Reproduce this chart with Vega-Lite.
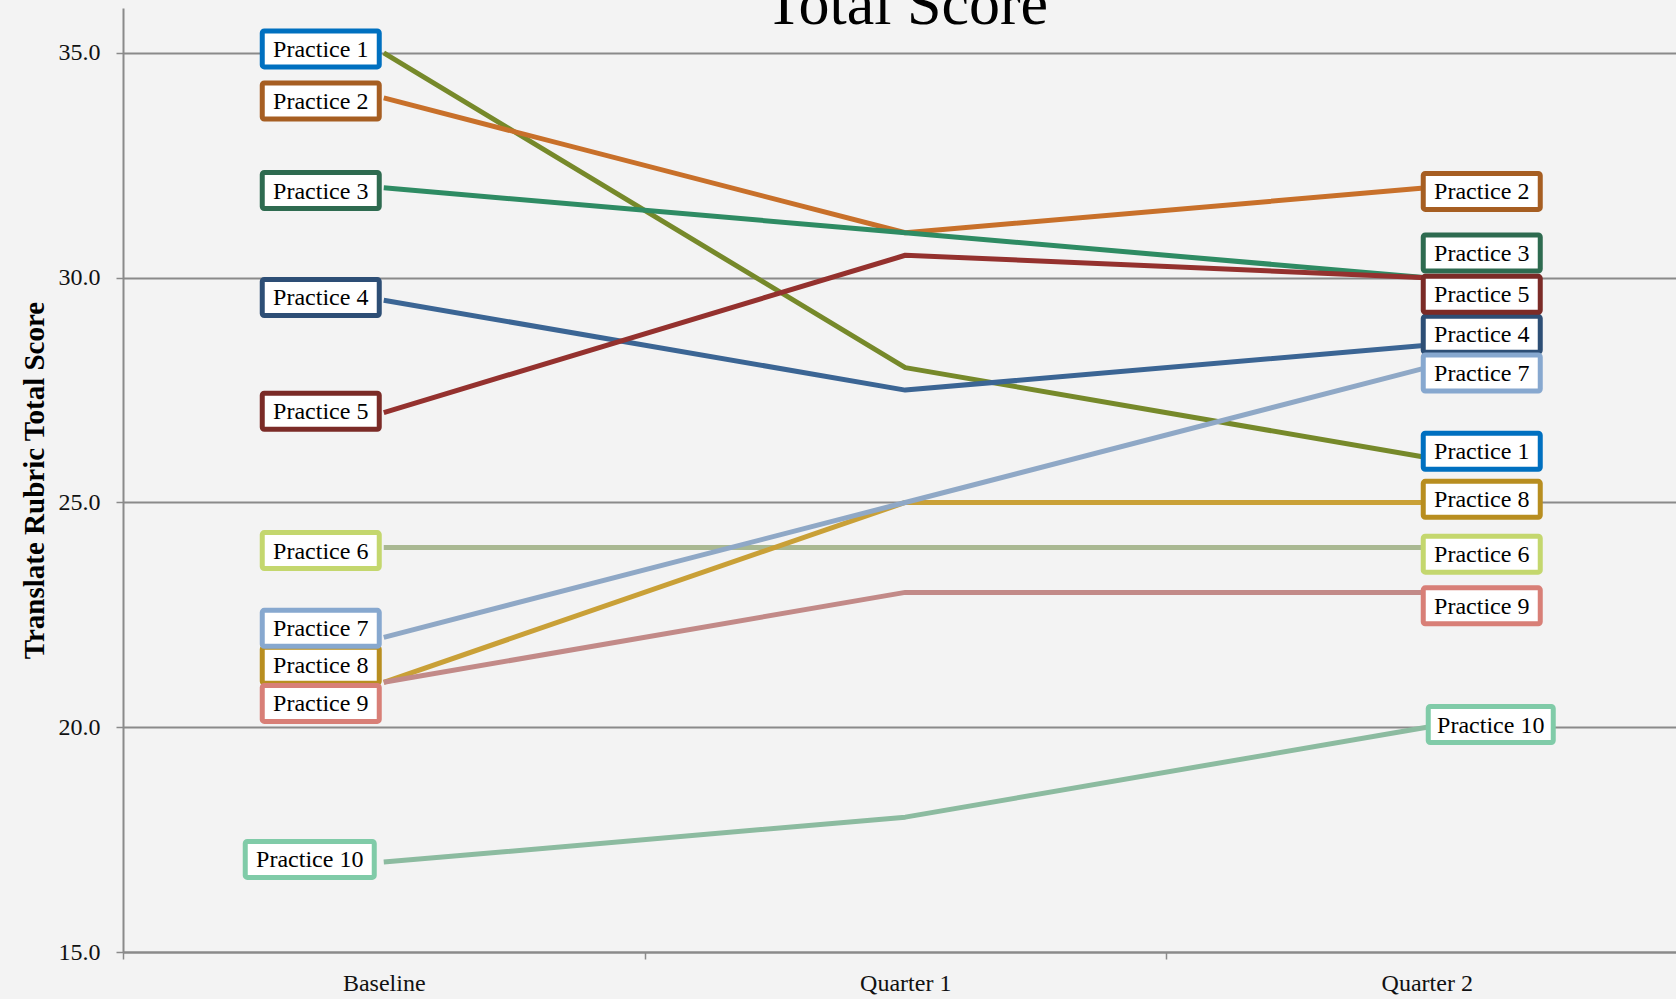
{
  "$schema": "https://vega.github.io/schema/vega-lite/v6.json",
  "autosize": {"type": "none"},
  "width": 1553,
  "height": 944,
  "padding": {"left": 123, "top": 8, "right": 0, "bottom": 47},
  "background": "#f3f3f3",
  "title": {
    "text": "Total Score",
    "font": "Liberation Serif",
    "fontSize": 62,
    "fontWeight": "normal",
    "color": "#000000",
    "anchor": "middle",
    "frame": "group",
    "offset": -78,
    "baseline": "alphabetic",
    "dx": 7
  },
  "config": {
    "font": "Liberation Serif",
    "view": {"stroke": null}
  },
  "data": {
    "values": [
      {"practice": "Practice 1", "period": "Baseline", "score": 35, "labelAt": 35.09},
      {"practice": "Practice 1", "period": "Quarter 1", "score": 28},
      {"practice": "Practice 1", "period": "Quarter 2", "score": 26, "labelAt": 26.14},
      {"practice": "Practice 2", "period": "Baseline", "score": 34, "labelAt": 33.93},
      {"practice": "Practice 2", "period": "Quarter 1", "score": 31},
      {"practice": "Practice 2", "period": "Quarter 2", "score": 32, "labelAt": 31.92},
      {"practice": "Practice 3", "period": "Baseline", "score": 32, "labelAt": 31.94},
      {"practice": "Practice 3", "period": "Quarter 1", "score": 31},
      {"practice": "Practice 3", "period": "Quarter 2", "score": 30, "labelAt": 30.55},
      {"practice": "Practice 4", "period": "Baseline", "score": 29.5, "labelAt": 29.56},
      {"practice": "Practice 4", "period": "Quarter 1", "score": 27.5},
      {"practice": "Practice 4", "period": "Quarter 2", "score": 28.5, "labelAt": 28.74},
      {"practice": "Practice 5", "period": "Baseline", "score": 27, "labelAt": 27.03},
      {"practice": "Practice 5", "period": "Quarter 1", "score": 30.5},
      {"practice": "Practice 5", "period": "Quarter 2", "score": 30, "labelAt": 29.63},
      {"practice": "Practice 6", "period": "Baseline", "score": 24, "labelAt": 23.93},
      {"practice": "Practice 6", "period": "Quarter 1", "score": 24},
      {"practice": "Practice 6", "period": "Quarter 2", "score": 24, "labelAt": 23.85},
      {"practice": "Practice 8", "period": "Baseline", "score": 21, "labelAt": 21.38},
      {"practice": "Practice 8", "period": "Quarter 1", "score": 25},
      {"practice": "Practice 8", "period": "Quarter 2", "score": 25, "labelAt": 25.07},
      {"practice": "Practice 7", "period": "Baseline", "score": 22, "labelAt": 22.2},
      {"practice": "Practice 7", "period": "Quarter 1", "score": 25},
      {"practice": "Practice 7", "period": "Quarter 2", "score": 28, "labelAt": 27.88},
      {"practice": "Practice 9", "period": "Baseline", "score": 21, "labelAt": 20.53},
      {"practice": "Practice 9", "period": "Quarter 1", "score": 23},
      {"practice": "Practice 9", "period": "Quarter 2", "score": 23, "labelAt": 22.7},
      {"practice": "Practice 10", "period": "Baseline", "score": 17, "labelAt": 17.06},
      {"practice": "Practice 10", "period": "Quarter 1", "score": 18},
      {"practice": "Practice 10", "period": "Quarter 2", "score": 20, "labelAt": 20.06}
    ]
  },
  "encoding": {
    "x": {
      "field": "period",
      "type": "nominal",
      "scale": {
        "type": "band",
        "domain": ["Baseline", "Quarter 1", "Quarter 2"],
        "range": [0, 1564.5],
        "paddingInner": 0,
        "paddingOuter": 0
      },
      "axis": {
        "title": null,
        "labelAngle": 0,
        "labelFontSize": 24,
        "labelColor": "#111111",
        "labelPadding": 12,
        "tickBand": "extent",
        "tickSize": 7,
        "tickWidth": 1.5,
        "tickColor": "#8a8a8a",
        "domainColor": "#8a8a8a",
        "domainWidth": 2,
        "grid": false
      }
    }
  },
  "layer": [
    {
      "mark": {"type": "line", "strokeWidth": 5, "strokeJoin": "round"},
      "encoding": {
        "y": {
          "field": "score",
          "type": "quantitative",
          "title": "Translate Rubric Total Score",
          "scale": {"domain": [15, 36], "nice": false, "zero": false},
          "axis": {
            "values": [15, 20, 25, 30, 35],
            "format": ".1f",
            "grid": true,
            "gridColor": "#8a8a8a",
            "gridWidth": 2,
            "tickSize": 7,
            "tickWidth": 1.5,
            "tickColor": "#8a8a8a",
            "domainColor": "#8a8a8a",
            "domainWidth": 2,
            "labelFontSize": 24,
            "labelColor": "#111111",
            "labelPadding": 16,
            "titleFontSize": 29,
            "titleFontWeight": "bold",
            "titleColor": "#000000",
            "titlePadding": 9
          }
        },
        "color": {
          "field": "practice",
          "type": "nominal",
          "legend": null,
          "scale": {
            "domain": ["Practice 1", "Practice 2", "Practice 3", "Practice 4", "Practice 5", "Practice 6", "Practice 7", "Practice 8", "Practice 9", "Practice 10"],
            "range": ["#76892a", "#c8702a", "#2e8b63", "#3b6594", "#94312e", "#a9b892", "#8fa8c6", "#c9a037", "#c28a88", "#8cbba0"]
          }
        },
        "order": {"field": "period"}
      }
    },
    {
      "transform": [{"filter": "datum.period === 'Baseline' && datum.practice !== 'Practice 10'"}],
      "mark": {"type": "rect", "width": 117, "height": 36, "xOffset": -63, "fill": "#ffffff", "strokeWidth": 5, "cornerRadius": 2},
      "encoding": {
        "y": {"field": "labelAt", "type": "quantitative", "title": "Translate Rubric Total Score"},
        "stroke": {"field": "practice", "type": "nominal", "legend": null, "scale": {
          "domain": ["Practice 1", "Practice 2", "Practice 3", "Practice 4", "Practice 5", "Practice 6", "Practice 7", "Practice 8", "Practice 9", "Practice 10"],
          "range": ["#0070c0", "#a65e22", "#2e6b50", "#2d4e75", "#7b2b27", "#c4d76e", "#87a8cf", "#b88e20", "#d87f77", "#80cba8"]
        }}
      }
    },
    {
      "transform": [{"filter": "datum.period === 'Baseline' && datum.practice === 'Practice 10'"}],
      "mark": {"type": "rect", "width": 129, "height": 36, "xOffset": -74, "fill": "#ffffff", "strokeWidth": 5, "cornerRadius": 2},
      "encoding": {
        "y": {"field": "labelAt", "type": "quantitative", "title": "Translate Rubric Total Score"},
        "stroke": {"field": "practice", "type": "nominal", "legend": null}
      }
    },
    {
      "transform": [{"filter": "datum.period === 'Quarter 2' && datum.practice !== 'Practice 10'"}],
      "mark": {"type": "rect", "width": 117, "height": 36, "xOffset": 55, "fill": "#ffffff", "strokeWidth": 5, "cornerRadius": 2},
      "encoding": {
        "y": {"field": "labelAt", "type": "quantitative", "title": "Translate Rubric Total Score"},
        "stroke": {"field": "practice", "type": "nominal", "legend": null}
      }
    },
    {
      "transform": [{"filter": "datum.period === 'Quarter 2' && datum.practice === 'Practice 10'"}],
      "mark": {"type": "rect", "width": 125, "height": 36, "xOffset": 64, "fill": "#ffffff", "strokeWidth": 5, "cornerRadius": 2},
      "encoding": {
        "y": {"field": "labelAt", "type": "quantitative", "title": "Translate Rubric Total Score"},
        "stroke": {"field": "practice", "type": "nominal", "legend": null}
      }
    },
    {
      "transform": [{"filter": "datum.period === 'Baseline' && datum.practice !== 'Practice 10'"}],
      "mark": {"type": "text", "fontSize": 24, "color": "#000000", "align": "center", "baseline": "middle", "xOffset": -63, "yOffset": 1},
      "encoding": {
        "y": {"field": "labelAt", "type": "quantitative", "title": "Translate Rubric Total Score"},
        "text": {"field": "practice"}
      }
    },
    {
      "transform": [{"filter": "datum.period === 'Baseline' && datum.practice === 'Practice 10'"}],
      "mark": {"type": "text", "fontSize": 24, "color": "#000000", "align": "center", "baseline": "middle", "xOffset": -74, "yOffset": 1},
      "encoding": {
        "y": {"field": "labelAt", "type": "quantitative", "title": "Translate Rubric Total Score"},
        "text": {"field": "practice"}
      }
    },
    {
      "transform": [{"filter": "datum.period === 'Quarter 2' && datum.practice !== 'Practice 10'"}],
      "mark": {"type": "text", "fontSize": 24, "color": "#000000", "align": "center", "baseline": "middle", "xOffset": 55, "yOffset": 1},
      "encoding": {
        "y": {"field": "labelAt", "type": "quantitative", "title": "Translate Rubric Total Score"},
        "text": {"field": "practice"}
      }
    },
    {
      "transform": [{"filter": "datum.period === 'Quarter 2' && datum.practice === 'Practice 10'"}],
      "mark": {"type": "text", "fontSize": 24, "color": "#000000", "align": "center", "baseline": "middle", "xOffset": 64, "yOffset": 1},
      "encoding": {
        "y": {"field": "labelAt", "type": "quantitative", "title": "Translate Rubric Total Score"},
        "text": {"field": "practice"}
      }
    }
  ]
}
